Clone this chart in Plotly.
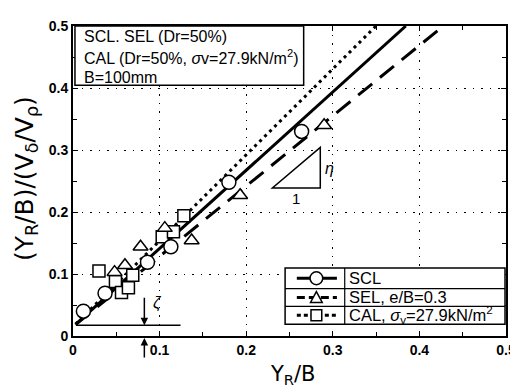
import plotly.graph_objects as go

# ---- data ----
scl_x = [0.012, 0.037, 0.086, 0.113, 0.180, 0.264]
scl_y = [0.040, 0.069, 0.119, 0.144, 0.248, 0.330]

sel_x = [0.048, 0.060, 0.078, 0.106, 0.137, 0.193, 0.290]
sel_y = [0.103, 0.114, 0.144, 0.174, 0.154, 0.227, 0.340]

cal_x = [0.030, 0.049, 0.056, 0.064, 0.069, 0.103, 0.116, 0.128]
cal_y = [0.105, 0.088, 0.070, 0.078, 0.098, 0.160, 0.168, 0.194]

# fitted lines: y = intercept + slope * x, drawn from fit_x0 up to y = 0.5
fit_names = ["SCL", "SEL", "CAL"]
fit_slopes = [1.262, 1.134, 1.386]
fit_intercept = 0.015
fit_x0 = 0.003
y_top = 0.5

tick_vals = [0, 0.1, 0.2, 0.3, 0.4, 0.5]
tick_text = ["0", "0.1", "0.2", "0.3", "0.4", "0.5"]

W, H = 518, 385
L, R, T, B = 65, 10, 14, 57
PW, PH = W - L - R, H - T - B


def px(xp):
    return (xp - L) / PW


def py(yp):
    return (H - B - yp) / PH


FONT = "Liberation Sans, Arial, sans-serif"

fig = go.Figure()

line_styles = {
    "SCL": dict(color="black", width=3, dash="solid"),
    "SEL": dict(color="black", width=3, dash="18px,10px"),
    "CAL": dict(color="black", width=3, dash="3px,4px"),
}
for name, m in zip(fit_names, fit_slopes):
    x1 = (y_top - fit_intercept) / m
    fig.add_trace(go.Scatter(
        x=[fit_x0, x1],
        y=[fit_intercept + m * fit_x0, fit_intercept + m * x1],
        mode="lines", line=line_styles[name], showlegend=False, hoverinfo="skip"))

mk_line = dict(color="black", width=1.5)
fig.add_trace(go.Scatter(x=cal_x, y=cal_y, mode="markers", showlegend=False,
                         marker=dict(symbol="square", size=12, color="white", line=mk_line)))
fig.add_trace(go.Scatter(x=sel_x, y=sel_y, mode="markers", showlegend=False,
                         marker=dict(symbol="triangle-up", size=13, color="white", line=mk_line)))
fig.add_trace(go.Scatter(x=scl_x, y=scl_y, mode="markers", showlegend=False,
                         marker=dict(symbol="circle", size=14, color="white", line=mk_line)))

shapes = []
annotations = []

# top-left info box
shapes.append(dict(type="rect", xref="paper", yref="paper",
                   x0=px(67), x1=px(301), y0=py(74), y1=py(14),
                   line=dict(color="black", width=1.5), fillcolor="white", layer="above"))
info_lines = ["SCL. SEL (Dr=50%)",
              "CAL (Dr=50%, <i>σ</i>v=27.9kN/m<sup>2</sup>)",
              "B=100mm"]
for i, t in enumerate(info_lines):
    annotations.append(dict(xref="paper", yref="paper", x=px(74), y=py(25 + 20.5 * i),
                            text=t, showarrow=False, xanchor="left", yanchor="middle",
                            font=dict(family=FONT, size=16, color="black")))

# legend table
lx0, lx1, lxs = 282, 507, 343
ly = [259, 280, 298, 316]
shapes.append(dict(type="rect", xref="paper", yref="paper",
                   x0=px(lx0), x1=px(lx1), y0=py(ly[3]), y1=py(ly[0]),
                   line=dict(color="black", width=1.5), fillcolor="white", layer="above"))
for yy in ly[1:3]:
    shapes.append(dict(type="line", xref="paper", yref="paper",
                       x0=px(lx0), x1=px(lx1), y0=py(yy), y1=py(yy),
                       line=dict(color="black", width=1.2), layer="above"))
shapes.append(dict(type="line", xref="paper", yref="paper",
                   x0=px(lxs), x1=px(lxs), y0=py(ly[3]), y1=py(ly[0]),
                   line=dict(color="black", width=1.2), layer="above"))

leg_text = ["SCL", "SEL, e/B=0.3", "CAL, <i>σ</i><sub>v</sub>=27.9kN/m<sup>2</sup>"]
leg_dash = ["solid", "8px,4px", "4px,3px"]
cx = 314
for i, t in enumerate(leg_text):
    yc = (ly[i] + ly[i + 1]) / 2
    annotations.append(dict(xref="paper", yref="paper", x=px(lxs + 2), y=py(yc),
                            text=t, showarrow=False, xanchor="left", yanchor="middle",
                            font=dict(family=FONT, size=16.5, color="black")))
    shapes.append(dict(type="line", xref="paper", yref="paper",
                       x0=px(294), x1=px(335), y0=py(yc), y1=py(yc),
                       line=dict(color="black", width=3, dash=leg_dash[i]), layer="above"))
    if i == 0:
        shapes.append(dict(type="circle", xref="paper", yref="paper",
                           x0=px(cx - 6.5), x1=px(cx + 6.5), y0=py(yc + 6.5), y1=py(yc - 6.5),
                           line=dict(color="black", width=1.5), fillcolor="white", layer="above"))
    elif i == 1:
        shapes.append(dict(type="path", xref="paper", yref="paper",
                           path=f"M {px(cx-6)},{py(yc+5)} L {px(cx+6)},{py(yc+5)} L {px(cx)},{py(yc-6)} Z",
                           line=dict(color="black", width=1.5), fillcolor="white", layer="above"))
    else:
        shapes.append(dict(type="rect", xref="paper", yref="paper",
                           x0=px(cx - 5.5), x1=px(cx + 5.5), y0=py(yc + 5.5), y1=py(yc - 5.5),
                           line=dict(color="black", width=1.5), fillcolor="white", layer="above"))

# slope triangle
shapes.append(dict(type="path", xref="paper", yref="paper",
                   path=f"M {px(269)},{py(178)} L {px(318)},{py(178)} L {px(318)},{py(137)} Z",
                   line=dict(color="black", width=1.5), fillcolor="white"))
annotations.append(dict(xref="paper", yref="paper", x=px(293), y=py(189), text="1",
                        showarrow=False, font=dict(family=FONT, size=15, color="black")))
annotations.append(dict(xref="paper", yref="paper", x=px(327), y=py(158), text="<i>η</i>",
                        showarrow=False, font=dict(family=FONT, size=16, color="black")))

# zeta marker
shapes.append(dict(type="line", xref="paper", yref="paper",
                   x0=px(68), x1=px(175), y0=py(317), y1=py(317),
                   line=dict(color="black", width=1.5)))
annotations.append(dict(xref="paper", yref="paper", x=px(138), y=py(317),
                        ax=0, ay=-29, axref="pixel", ayref="pixel",
                        showarrow=True, arrowhead=2, arrowsize=1, arrowwidth=1.5,
                        arrowcolor="black", text=""))
annotations.append(dict(xref="paper", yref="paper", x=px(138), y=py(330),
                        ax=0, ay=21, axref="pixel", ayref="pixel",
                        showarrow=True, arrowhead=2, arrowsize=1, arrowwidth=1.5,
                        arrowcolor="black", text=""))
annotations.append(dict(xref="paper", yref="paper", x=px(145), y=py(306), text="<i>ζ</i>",
                        showarrow=False, font=dict(family=FONT, size=16, color="black")))

# axis titles
annotations.append(dict(xref="paper", yref="paper", x=px(17), y=py(169), textangle=-90,
                        text="(Y<sub>R</sub>/B)/(V<sub>δ</sub>/V<sub>ρ</sub>)", showarrow=False,
                        xanchor="center", yanchor="middle",
                        font=dict(family="DejaVu Sans", size=25, color="black")))
annotations.append(dict(xref="paper", yref="paper", x=px(290), y=py(367),
                        text="Y<sub>R</sub>/B", showarrow=False,
                        xanchor="center", yanchor="middle",
                        font=dict(family="DejaVu Sans", size=21, color="black")))

grid = dict(showgrid=True, gridcolor="black", gridwidth=1, griddash="1.5px,7px")
axis_common = dict(range=[0, 0.5], tickvals=tick_vals,
                   ticktext=[f"<b>{t}</b>" for t in tick_text],
                   ticks="inside", ticklen=5, tickwidth=1, tickcolor="black",
                   showline=True, linecolor="black", linewidth=2, mirror="ticks",
                   zeroline=False,
                   minor=dict(ticks="inside", ticklen=4, dtick=0.05, tickcolor="black", showgrid=False),
                   tickfont=dict(family=FONT, size=14, color="black"), **grid)

fig.update_layout(
    width=W, height=H,
    margin=dict(l=L, r=R, t=T, b=B),
    plot_bgcolor="white", paper_bgcolor="white",
    shapes=shapes, annotations=annotations, showlegend=False,
    xaxis=axis_common,
    yaxis=axis_common,
)

fig.write_html("out.html")
